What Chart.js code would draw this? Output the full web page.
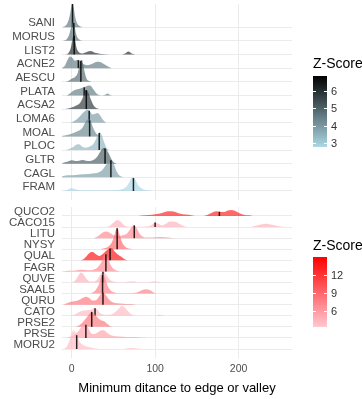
<!DOCTYPE html>
<html>
<head>
<meta charset="utf-8">
<script src="https://cdn.jsdelivr.net/npm/chart.js@4.4.1/dist/chart.umd.min.js"></script>
<style>
  body { margin: 0; background: #fff; font-family: "Liberation Sans", Arial, sans-serif; }
  #wrap { position: relative; width: 362px; height: 399px; overflow: hidden; }
  canvas { position: absolute; left: 0; }
  .lgTitle { position: absolute; font-size: 14px; color: #000; white-space: nowrap; }
  .bar { position: absolute; width: 14px; }
  .lab { position: absolute; font-size: 11px; color: #333; line-height: 12px; }
  .tk { position: absolute; width: 3px; height: 1px; background: #fff; }
</style>
</head>
<body>
<div id="wrap">
  <canvas id="topChart" width="362" height="200" style="top:0"></canvas>
  <canvas id="botChart" width="362" height="199" style="top:200px"></canvas>
</div>
<script>
// upper panel (blue/black scale)
const topCats = ['SANI', 'MORUS', 'LIST2', 'ACNE2', 'AESCU', 'PLATA', 'ACSA2', 'LOMA6', 'MOAL', 'PLOC', 'GLTR', 'CAGL', 'FRAM'];
const topZ = [4.6, 4.7, 6.0, 4.5, 4.8, 4.5, 5.8, 3.9, 4.3, 3.4, 5.1, 3.9, 2.8];
const topMedian = [1, 2.5, 3, 8, 11, 15, 17.5, 21, 21.5, 33, 40, 47, 74];
const topRidges = [
  [[-11,0],[-7,0.12],[-4,0.45],[-2,0.95],[0,1.6],[1,1.75],[2.5,1.4],[4,0.8],[6,0.35],[9,0.1],[13,0]],
  [[-10,0],[-6,0.12],[-3,0.45],[-1,0.9],[1,1.3],[2,1.4],[3.5,1.1],[5,0.6],[7,0.25],[10,0.07],[14,0]],
  [[-8,0],[-4,0.1],[-1,0.5],[1,1.1],[2.5,1.5],[4,1.1],[6,0.45],[9,0.15],[13,0.08],[18,0.18],[23,0.25],[27,0.15],[31,0.1],[36,0.03],[45,0],[60,0],[64,0.08],[68,0.22],[72,0.08],[76,0]],
  [[-12,0],[-8,0.2],[-5,0.6],[-2,0.86],[1,0.75],[4,0.55],[7,0.6],[10,0.55],[14,0.3],[19,0.22],[24,0.3],[29,0.45],[32,0.47],[36,0.4],[40,0.25],[44,0.1],[48,0]],
  [[-7,0],[-3,0.1],[0,0.22],[4,0.35],[7,0.6],[9,1.1],[11,1.55],[12.5,1.6],[14,1.2],[16,0.6],[18,0.2],[21,0.05],[24,0]],
  [[-6,0],[-2,0.15],[2,0.35],[7,0.45],[12,0.55],[16,0.62],[20,0.72],[23,0.7],[26,0.45],[29,0.2],[32,0.05],[36,0],[40,0.05],[43,0.14],[46,0.04],[49,0]],
  [[-8,0],[-4,0.05],[0,0.12],[5,0.25],[10,0.45],[13,0.8],[15.5,1.25],[17.5,1.4],[20,1.2],[23,0.7],[26,0.3],[29,0.1],[33,0]],
  [[-2,0],[2,0.1],[7,0.3],[11,0.55],[15,0.8],[19,0.95],[22,0.85],[25,0.6],[28,0.65],[31,0.72],[34,0.55],[37,0.25],[40,0.06],[43,0]],
  [[-16,0],[-10,0.05],[-4,0.12],[2,0.25],[7,0.38],[11,0.5],[14,0.75],[17,1.1],[20,1.25],[23,1.1],[26,0.6],[29,0.25],[33,0.06],[37,0]],
  [[-7,0],[-3,0.08],[2,0.22],[6,0.4],[9,0.42],[12,0.28],[16,0.17],[21,0.25],[26,0.45],[29,0.8],[32,1.2],[34,1.3],[36,1.1],[39,0.55],[42,0.15],[45,0]],
  [[-12,0],[-8,0.1],[-3,0.2],[0,0.25],[4,0.2],[9,0.22],[13,0.27],[17,0.22],[22,0.2],[27,0.3],[31,0.55],[35,0.95],[38,1.15],[41,1.1],[44,0.8],[47,0.4],[50,0.12],[54,0]],
  [[-14,0],[-10,0.1],[-4,0.15],[5,0.18],[15,0.22],[25,0.28],[32,0.35],[37,0.55],[41,0.9],[44,1.15],[47,1.25],[50,1.05],[53,0.55],[56,0.2],[60,0.04],[63,0]],
  [[-10,0],[-5,0.1],[0,0.22],[4,0.12],[10,0.06],[25,0.05],[40,0.05],[52,0.06],[60,0.12],[66,0.35],[70,0.75],[73,1.0],[76,0.85],[80,0.4],[85,0.15],[91,0.05],[96,0]]
];

// lower panel (pink/red scale)
const botCats = ['QUCO2', 'CACO15', 'LITU', 'NYSY', 'QUAL', 'FAGR', 'QUVE', 'SAAL5', 'QURU', 'CATO', 'PRSE2', 'PRSE', 'MORU2'];
const botZ = [13, 4.5, 7, 9, 14, 7, 4.5, 7.5, 8, 4.2, 8, 5.5, 4];
const botMedian = [177, 100, 75, 54.5, 46, 41, 37.5, 37, 37.5, 28, 24, 17, 6];
const botRidges = [
  [[80,0],[88,0.06],[96,0.12],[104,0.2],[110,0.32],[116,0.42],[122,0.4],[128,0.25],[133,0.15],[140,0.1],[146,0.03],[150,0],[158,0],[163,0.1],[168,0.3],[173,0.42],[177,0.38],[182,0.35],[187,0.5],[191,0.55],[196,0.45],[201,0.25],[206,0.12],[212,0.06],[217,0]],
  [[40,0],[45,0.1],[50,0.4],[54,0.62],[57,0.6],[61,0.3],[65,0.08],[70,0.02],[80,0.02],[90,0.05],[95,0.15],[100,0.42],[104,0.3],[108,0.15],[113,0.3],[118,0.5],[124,0.48],[129,0.3],[134,0.1],[139,0],[212,0],[220,0.1],[228,0.25],[233,0.3],[240,0.2],[248,0.08],[256,0]],
  [[26,0],[31,0.15],[36,0.45],[41,0.6],[45,0.5],[49,0.3],[54,0.2],[60,0.25],[66,0.4],[70,0.8],[73,1.1],[75,1.15],[78,0.9],[81,0.45],[85,0.15],[90,0.05],[96,0.06],[104,0.1],[112,0.08],[120,0.02],[124,0]],
  [[34,0],[39,0.08],[44,0.25],[48,0.6],[51,1.2],[53.5,1.85],[55,1.9],[57,1.4],[60,0.7],[63,0.3],[67,0.1],[72,0.02],[76,0]],
  [[10,0],[14,0.1],[18,0.4],[22,0.7],[25,0.75],[29,0.55],[33,0.4],[37,0.55],[41,0.85],[45,1.05],[48,1.1],[51,0.85],[55,0.55],[59,0.35],[63,0.12],[67,0]],
  [[-10,0],[-4,0.06],[2,0.06],[8,0.12],[14,0.15],[20,0.1],[26,0.15],[31,0.35],[35,0.75],[38,1.3],[40.5,1.6],[43,1.3],[46,0.7],[49,0.3],[53,0.1],[58,0]],
  [[0,0],[4,0.15],[8,0.6],[11,0.9],[14,0.75],[18,0.3],[22,0.1],[27,0.1],[31,0.3],[35,0.8],[38,1.0],[41,0.75],[45,0.3],[50,0.08],[56,0.02],[64,0.03],[70,0.1],[75,0.08],[80,0.02],[92,0.02],[98,0.08],[103,0.06],[108,0]],
  [[20,0],[25,0.1],[29,0.35],[33,0.9],[36,1.6],[38,1.75],[40,1.4],[43,0.7],[47,0.25],[52,0.08],[58,0.03],[70,0.03],[78,0.1],[84,0.3],[89,0.4],[94,0.3],[98,0.1],[103,0]],
  [[-10,0],[-6,0.12],[-2,0.25],[3,0.3],[8,0.4],[13,0.6],[17,0.72],[21,0.6],[25,0.38],[29,0.4],[33,0.75],[36,1.05],[38,1.08],[41,0.85],[45,0.45],[49,0.22],[54,0.12],[62,0.08],[70,0.05],[77,0]],
  [[-2,0],[3,0.1],[8,0.3],[13,0.45],[18,0.5],[23,0.55],[27,0.7],[30,0.6],[34,0.25],[39,0.1],[45,0.08],[51,0.25],[56,0.6],[60,0.88],[63,0.8],[67,0.45],[71,0.15],[76,0.03],[90,0],[100,0],[104,0.08],[108,0.05],[112,0]],
  [[4,0],[9,0.15],[13,0.4],[17,0.75],[21,1.15],[24,1.35],[27,1.2],[31,0.85],[35,0.6],[39,0.5],[42,0.3],[46,0.08],[50,0]],
  [[-6,0],[-1,0.12],[4,0.35],[9,0.7],[13,1.15],[16,1.3],[19,1.0],[23,0.45],[27,0.35],[31,0.5],[35,0.68],[38,0.7],[42,0.5],[47,0.25],[53,0.15],[62,0.1],[72,0.08],[80,0.06],[87,0.02],[90,0]],
  [[-9,0],[-6,0.2],[-3,0.7],[0,1.4],[2,1.7],[4,1.55],[7,1.1],[10,0.6],[14,0.35],[19,0.2],[24,0.12],[29,0.05],[34,0],[62,0],[67,0.06],[73,0.09],[79,0.05],[84,0]]
];

const xTicks = [0, 100, 200];
const topZRange = [2.77, 6.86];
const botZRange = [3.3, 15];
const topLegendTicks = [3, 4, 5, 6];
const botLegendTicks = [6, 9, 12];
const topLow = [173, 216, 230], topHigh = [0, 0, 0];
const botLow = [255, 200, 210], botHigh = [255, 0, 0];

const FONT = '"Liberation Sans", Arial, sans-serif';

function zColor(z, range, lo, hi, a) {
  const t = Math.min(1, Math.max(0, (z - range[0]) / (range[1] - range[0])));
  const c = lo.map((v, i) => Math.round(v + (hi[i] - v) * t));
  return 'rgba(' + c[0] + ',' + c[1] + ',' + c[2] + ',' + a + ')';
}

// ridge height at x, straight-line between the read points
function heightAt(ridge, x) {
  for (let k = 1; k < ridge.length; k++) {
    if (x <= ridge[k][0]) {
      const a = ridge[k - 1], b = ridge[k];
      return a[1] + (b[1] - a[1]) * (x - a[0]) / (b[0] - a[0]);
    }
  }
  return 0;
}

function buildSets(cats, z, med, ridges, range, lo, hi) {
  const n = cats.length, sets = [];
  // first dataset is painted last, so the lowest row goes first
  for (let i = n - 1; i >= 0; i--) {
    const base = n - 1 - i;
    sets.push({
      data: [{ x: med[i], y: base }, { x: med[i], y: base + heightAt(ridges[i], med[i]) }],
      borderColor: 'rgba(0,0,0,0.85)', borderWidth: 1.5, pointRadius: 0, fill: false
    });
    sets.push({
      data: ridges[i].map(p => ({ x: p[0], y: base + p[1] })),
      backgroundColor: zColor(z[i], range, lo, hi, 0.68),
      borderColor: 'rgba(0,0,0,0)', borderWidth: 1, pointRadius: 0,
      fill: { value: base }, cubicInterpolationMode: 'monotone'
    });
  }
  return sets;
}

function makeChart(id, cats, sets, yMin, yMax, padTop, showX) {
  return new Chart(document.getElementById(id), {
    type: 'line',
    data: { datasets: sets },
    options: {
      responsive: false,
      animation: false,
      devicePixelRatio: 1,
      layout: { padding: { left: 0, right: 70, top: padTop, bottom: 0 } },
      plugins: { legend: { display: false }, tooltip: { enabled: false } },
      scales: {
        x: {
          type: 'linear', min: -11.6, max: 264,
          afterBuildTicks: s => { s.ticks = xTicks.map(v => ({ value: v })); },
          afterFit: s => { s.height = showX ? 41 : 0; s.paddingLeft = 0; s.paddingRight = 0; },
          grid: { color: '#EBEBEB', lineWidth: 1, drawTicks: false },
          border: { display: false },
          ticks: { display: showX, padding: 5, color: '#4D4D4D', maxRotation: 0, font: { family: FONT, size: 10.5 } },
          title: {
            display: showX, text: 'Minimum ditance to edge or valley', color: '#000',
            font: { family: FONT, size: 13 }, padding: { top: 0, bottom: 3 }
          }
        },
        y: {
          type: 'linear', min: yMin, max: yMax,
          afterBuildTicks: s => { s.ticks = cats.map((c, i) => ({ value: cats.length - 1 - i })); },
          afterFit: s => { s.width = 62; s.paddingTop = 0; s.paddingBottom = 0; },
          grid: { color: '#EBEBEB', lineWidth: 1, drawTicks: false },
          border: { display: false },
          ticks: {
            autoSkip: false, padding: 7, labelOffset: -4, color: '#4D4D4D',
            font: { family: FONT, size: 11.5 },
            callback: v => cats[cats.length - 1 - v]
          }
        }
      }
    }
  });
}

makeChart('topChart', topCats, buildSets(topCats, topZ, topMedian, topRidges, topZRange, topLow, topHigh), -0.66, 13.7, 4, false);
makeChart('botChart', botCats, buildSets(botCats, botZ, botMedian, botRidges, botZRange, botLow, botHigh), -0.81, 12.81, 7, true);

// colour bar legends
function addLegend(titleY, barTop, barH, range, ticks, lo, hi) {
  const wrap = document.getElementById('wrap');
  const title = document.createElement('div');
  title.className = 'lgTitle';
  title.textContent = 'Z-Score';
  title.style.left = '313px';
  title.style.top = (titleY - 8) + 'px';
  wrap.appendChild(title);

  const stops = [];
  for (let k = 0; k <= 10; k++) {
    const z = range[1] - (range[1] - range[0]) * k / 10;
    stops.push(zColor(z, range, lo, hi, 1) + ' ' + (k * 10) + '%');
  }
  const bar = document.createElement('div');
  bar.className = 'bar';
  bar.style.left = '313px';
  bar.style.top = barTop + 'px';
  bar.style.height = barH + 'px';
  bar.style.background = 'linear-gradient(to bottom, ' + stops.join(', ') + ')';
  wrap.appendChild(bar);

  ticks.forEach(v => {
    const y = barTop + (range[1] - v) / (range[1] - range[0]) * barH;
    [313, 324].forEach(x => {
      const tk = document.createElement('div');
      tk.className = 'tk';
      tk.style.left = x + 'px';
      tk.style.top = Math.round(y) + 'px';
      wrap.appendChild(tk);
    });
    const lab = document.createElement('div');
    lab.className = 'lab';
    lab.textContent = v;
    lab.style.left = '331px';
    lab.style.top = (y - 6) + 'px';
    wrap.appendChild(lab);
  });
}

addLegend(63, 76, 71, topZRange, topLegendTicks, topLow, topHigh);
addLegend(245, 257, 70, botZRange, botLegendTicks, botLow, botHigh);
</script>
</body>
</html>
